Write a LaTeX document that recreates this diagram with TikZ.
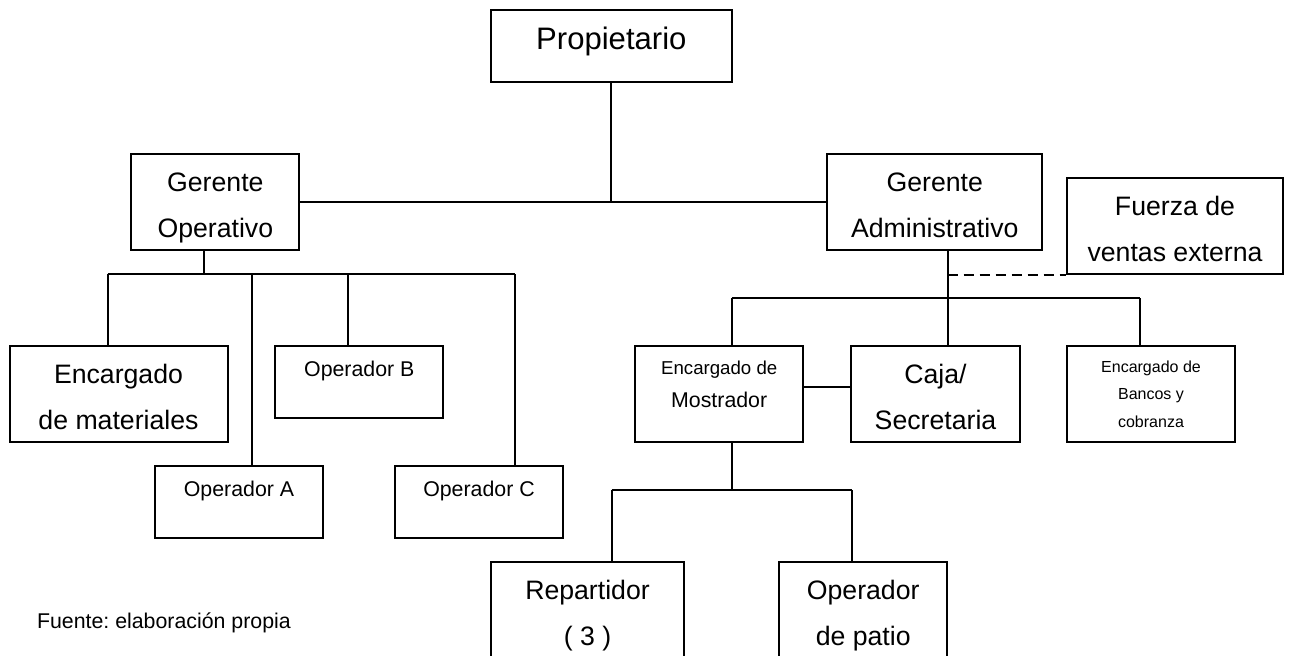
\documentclass[tikz,border=0pt]{standalone}
\usepackage{fontspec}
\setmainfont{Liberation Sans}
\usepackage{tikz}

% two lines, first line with a fixed height, second with no depth
\newcommand{\dosl}[2]{\rule{0pt}{19pt}#1\\\smash{#2}}

\begin{document}
\begin{tikzpicture}[x=0.75pt,y=0.75pt,yscale=-1,xscale=1,line width=1.5pt,
  box/.style={draw,inner sep=0pt,align=center,font=\fontsize{20}{34.5}\selectfont},
  opbox/.style={box,minimum width=126pt,minimum height=54pt,font=\fontsize{16}{19.5}\selectfont},
  linea/.style={line width=1.5pt}]
\useasboundingbox (0,0) rectangle (1289,656);

%Shape: Rectangle
\node [box,minimum width=180.5pt,minimum height=54pt,text height=17pt,text depth=11pt,font=\fontsize{23.3}{28}\selectfont] (prop) at (611.35,46) {Propietario};
%Shape: Rectangle
\node [box,minimum width=126pt,minimum height=72pt] (gop) at (215.35,202) {\dosl{Gerente}{Operativo}};
%Shape: Rectangle
\node [box,minimum width=161.6pt,minimum height=72pt] (gadm) at (934.75,202) {\dosl{Gerente}{Administrativo}};
%Shape: Rectangle
\node [box,minimum width=162pt,minimum height=72pt] (fuerza) at (1175,226) {\dosl{Fuerza de}{ventas externa}};
%Shape: Rectangle
\node [box,minimum width=163.5pt,minimum height=72pt] (materiales) at (118.5,394) {\dosl{Encargado}{de materiales}};
%Shape: Rectangle
\node [opbox] (opb) at (359.3,382) {Operador B\\\mbox{}};
%Shape: Rectangle
\node [opbox] (opa) at (239,502) {Operador A\\\mbox{}};
%Shape: Rectangle
\node [opbox] (opc) at (479,502) {Operador C\\\mbox{}};
%Shape: Rectangle
\node [box,minimum width=126.3pt,minimum height=72pt,font=\fontsize{14}{24.75}\selectfont] (mostrador) at (719.2,394) {Encargado de\\{\fontsize{16}{24.75}\selectfont Mostrador}\\[-10.5pt]\mbox{}};
%Shape: Rectangle
\node [box,minimum width=126.2pt,minimum height=72pt] (caja) at (935.5,394) {\dosl{Caja/}{Secretaria}};
%Shape: Rectangle
\node [box,minimum width=126pt,minimum height=72pt,font=\fontsize{12}{20.6}\selectfont] (bancos) at (1151,394) {Encargado de\\Bancos y\\cobranza};
%Shape: Rectangle
\node [box,minimum width=144.3pt,minimum height=72pt] (repartidor) at (587.5,610.3) {\dosl{Repartidor}{( 3 )}};
%Shape: Rectangle
\node [box,minimum width=126.2pt,minimum height=72pt] (patio) at (863.2,610.3) {\dosl{Operador}{de patio}};

% bus points
\coordinate (gob) at (203.6,274);
\coordinate (b1) at (107.5,274);
\coordinate (b2) at (251.6,274);
\coordinate (b3) at (347.5,274);
\coordinate (b4) at (515.4,274);
\coordinate (a0) at (947.5,298);
\coordinate (a1) at (731.8,298);
\coordinate (a3) at (1139.5,298);
\coordinate (mc) at (0,387);
\coordinate (d0) at (731.7,490);
\coordinate (d1) at (611.7,490);
\coordinate (d2) at (851.7,490);

%Straight Lines
\draw [linea] (prop.south) -- (prop.south |- gop.east);
\draw [linea] (gop.east) -- (gadm.west);
%Straight Lines
\draw [linea] (gob |- gop.south) -- (gob);
\draw [linea] (b1) -- (b4);
\draw [linea] (b1) -- (b1 |- materiales.north);
\draw [linea] (b2) -- (b2 |- opa.north);
\draw [linea] (b3) -- (b3 |- opb.north);
\draw [linea] (b4) -- (b4 |- opc.north);
%Straight Lines
\draw [linea] (a0 |- gadm.south) -- (a0 |- caja.north);
\draw [linea,dash pattern=on 8pt off 4pt] (a0 |- fuerza.south west) -- (fuerza.south west);
\draw [linea] (a1) -- (a3);
\draw [linea] (a1) -- (a1 |- mostrador.north);
\draw [linea] (a3) -- (a3 |- bancos.north);
\draw [linea] (mostrador.east |- mc) -- (caja.west |- mc);
%Straight Lines
\draw [linea] (d0 |- mostrador.south) -- (d0);
\draw [linea] (d1) -- (d2);
\draw [linea] (d1) -- (d1 |- repartidor.north);
\draw [linea] (d2) -- (d2 |- patio.north);

% Text Node
\node [anchor=west,inner sep=0pt,font=\fontsize{16}{19}\selectfont\frenchspacing] (fuente) at (36,623) {Fuente: elaboración propia};

\end{tikzpicture}
\end{document}
